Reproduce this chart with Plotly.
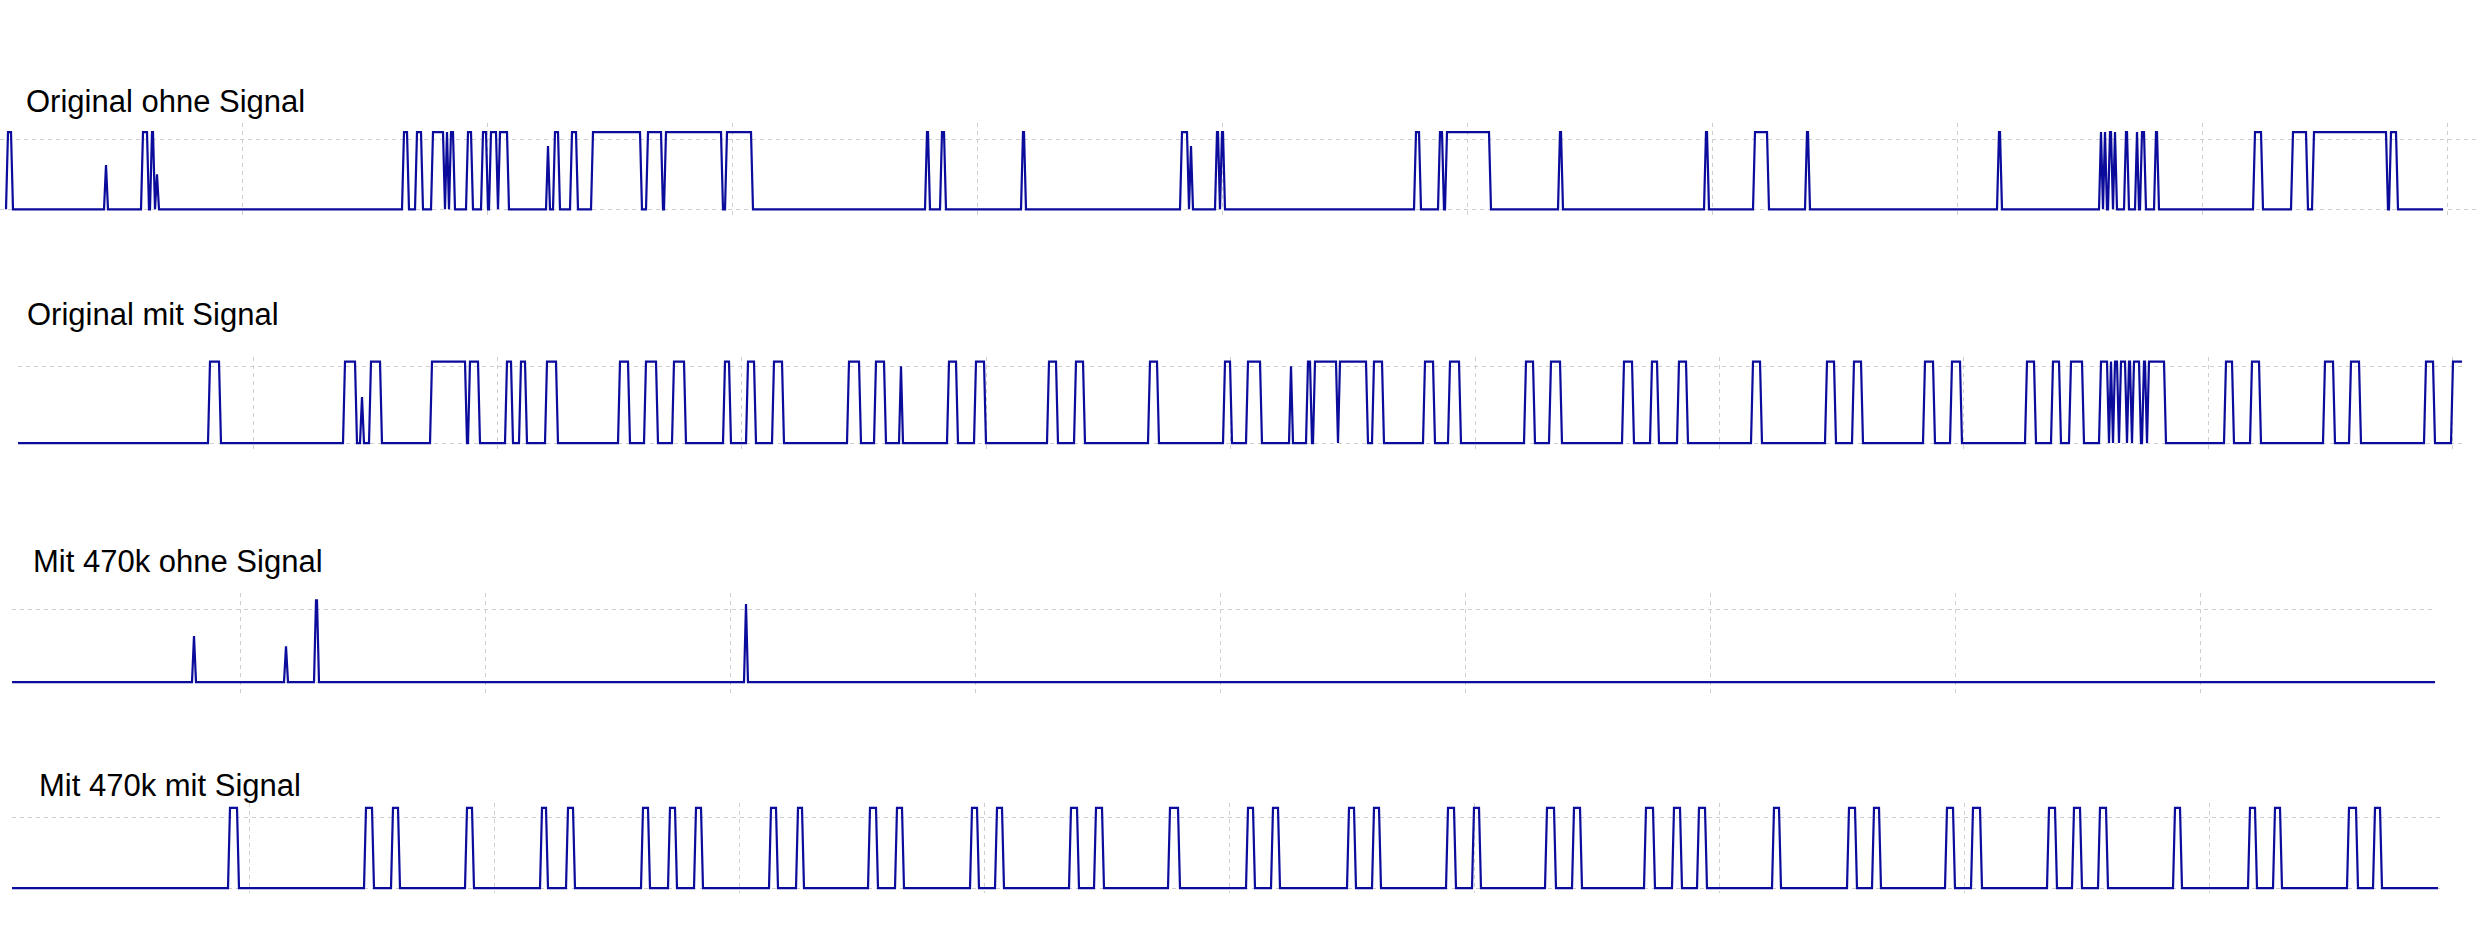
import plotly.graph_objects as go

# ---------------- data (sample index of each pulse edge, pulse level in div) ----
titles = ["Original ohne Signal", "Original mit Signal",
          "Mit 470k ohne Signal", "Mit 470k mit Signal"]

# capture span (first / last sample) per panel
p1_span = [6, 2443]
p2_span = [18, 2462]
p3_span = [12, 2435]
p4_span = [12, 2438]

# Panel 1: Original ohne Signal
p1_on = [7, 105, 142, 151, 156, 403, 416, 432, 446, 450, 467, 482, 490, 499,
         547, 554, 571, 592, 647, 665, 726, 926, 941, 1022, 1181, 1190, 1216,
         1221, 1415, 1439, 1446, 1559, 1705, 1754, 1806, 1998, 2100, 2104, 2109,
         2114, 2125, 2136, 2141, 2155, 2254, 2292, 2313, 2390]
p1_off = [12, 107, 148, 154, 158, 408, 422, 444, 448, 454, 472, 487, 497, 508,
          549, 559, 577, 641, 662, 722, 752, 929, 945, 1025, 1188, 1192, 1219,
          1224, 1420, 1443, 1490, 1562, 1708, 1768, 1809, 2001, 2102, 2106, 2112,
          2116, 2128, 2138, 2145, 2158, 2262, 2307, 2387, 2397]
p1_lvl = [1.1, 0.63, 1.1, 1.1, 0.5, 1.1, 1.1, 1.1, 1.1, 1.1, 1.1, 1.1, 1.1, 1.1,
          0.9, 1.1, 1.1, 1.1, 1.1, 1.1, 1.1, 1.1, 1.1, 1.1, 1.1, 0.9, 1.1,
          1.1, 1.1, 1.1, 1.1, 1.1, 1.1, 1.1, 1.1, 1.1, 1.1, 1.1, 1.1,
          1.1, 1.1, 1.1, 1.1, 1.1, 1.1, 1.1, 1.1, 1.1]

# Panel 2: Original mit Signal
p2_on = [209, 344, 361, 370, 431, 469, 506, 520, 546, 619, 645, 673, 724, 747,
         773, 848, 875, 900, 948, 975, 1048, 1075, 1149, 1224, 1247, 1290, 1307,
         1314, 1339, 1373, 1424, 1449, 1525, 1550, 1623, 1651, 1678, 1752, 1826,
         1853, 1924, 1951, 2026, 2052, 2070, 2100, 2110, 2114, 2120, 2128, 2133,
         2143, 2148, 2225, 2251, 2324, 2350, 2425, 2452]
p2_off = [220, 356, 363, 381, 466, 479, 512, 526, 557, 629, 657, 685, 730, 755,
          783, 860, 885, 902, 957, 985, 1057, 1084, 1158, 1231, 1261, 1292, 1311,
          1337, 1367, 1383, 1434, 1460, 1534, 1561, 1633, 1658, 1687, 1761, 1835,
          1862, 1934, 1961, 2035, 2060, 2083, 2108, 2112, 2118, 2126, 2131, 2140,
          2146, 2165, 2233, 2260, 2334, 2360, 2434, 2464]
p2_lvl = [1.06, 1.06, 0.6, 1.06, 1.06, 1.06, 1.06, 1.06, 1.06, 1.06, 1.06, 1.06,
          1.06, 1.06, 1.06, 1.06, 1.06, 1.0, 1.06, 1.06, 1.06, 1.06, 1.06, 1.06,
          1.06, 1.0, 1.06, 1.06, 1.06, 1.06, 1.06, 1.06, 1.06, 1.06, 1.06, 1.06,
          1.06, 1.06, 1.06, 1.06, 1.06, 1.06, 1.06, 1.06, 1.06, 1.06, 1.06, 1.06,
          1.06, 1.06, 1.06, 1.06, 1.06, 1.06, 1.06, 1.06, 1.06, 1.06, 1.06]

# Panel 3: Mit 470k ohne Signal
p3_on = [193, 285, 315, 745]
p3_off = [195, 287, 318, 747]
p3_lvl = [0.63, 0.49, 1.12, 1.07]

# Panel 4: Mit 470k mit Signal
p4_on = [229, 365, 392, 466, 541, 567, 642, 669, 695, 770, 797, 869, 896, 971,
         996, 1070, 1095, 1169, 1247, 1272, 1348, 1373, 1447, 1473, 1546, 1573,
         1645, 1673, 1698, 1773, 1848, 1873, 1946, 1972, 2048, 2073, 2099, 2174,
         2249, 2274, 2348, 2374]
p4_off = [238, 373, 399, 473, 547, 574, 649, 676, 702, 777, 803, 877, 903, 978,
          1003, 1078, 1103, 1179, 1254, 1279, 1355, 1380, 1455, 1480, 1555, 1581,
          1654, 1681, 1706, 1780, 1856, 1880, 1954, 1981, 2056, 2081, 2107, 2181,
          2256, 2281, 2357, 2381]
p4_lvl = [1.13] * len(p4_on)

# ---------------- build figure ----------------
def wave(on, off, lvl, span):
    xs, ys = [span[0]], [0]
    for s, e, l in zip(on, off, lvl):
        xs += [s - 1, s + 1, e - 1, e + 1]
        ys += [0, l, l, 0]
    xs.append(span[1])
    ys.append(0)
    return xs, ys

panels = [(p1_on, p1_off, p1_lvl, p1_span),
          (p2_on, p2_off, p2_lvl, p2_span),
          (p3_on, p3_off, p3_lvl, p3_span),
          (p4_on, p4_off, p4_lvl, p4_span)]

W, H = 2480, 945
# layout geometry per panel (pixels)
x_dom = [(0, 2480), (18, 2462), (12, 2435), (12, 2440)]
x_tick0 = [242, 253, 240, 249]
x_dtick = [245, 244.4, 245, 245]
y_dom = [(123, 217), (357, 450), (593, 693), (803, 893)]
y_rng = [(-0.11, 1.23), (-0.09, 1.12), (-0.15, 1.22), (-0.07, 1.2)]
title_pos = [(24, 101), (25, 314), (31, 561), (37, 785)]

grid_col = "#cfcfcf"
line_col = "#0b0b9c"

fig = go.Figure()
layout = dict(width=W, height=H, margin=dict(l=0, r=0, t=0, b=0),
              paper_bgcolor="white", plot_bgcolor="white", showlegend=False)
annotations = []
for i, (on, off, lvl, span) in enumerate(panels):
    k = "" if i == 0 else str(i + 1)
    xs, ys = wave(on, off, lvl, span)
    fig.add_trace(go.Scatter(x=xs, y=ys, mode="lines",
                             line=dict(color=line_col, width=2.2),
                             xaxis="x" + k, yaxis="y" + k, hoverinfo="skip"))
    x0, x1 = x_dom[i]
    layout["xaxis" + k] = dict(
        domain=[x0 / W, x1 / W], range=[x0, x1], anchor="y" + k,
        tick0=x_tick0[i], dtick=x_dtick[i], showticklabels=False, ticks="",
        showgrid=True, gridcolor=grid_col, griddash="4px,4px", gridwidth=1,
        zeroline=False, showline=False, fixedrange=True)
    y0, y1 = y_dom[i]
    layout["yaxis" + k] = dict(
        domain=[1 - y1 / H, 1 - y0 / H], range=list(y_rng[i]), anchor="x" + k,
        tickmode="array", tickvals=[0, 1], showticklabels=False, ticks="",
        showgrid=True, gridcolor=grid_col, griddash="4px,4px", gridwidth=1,
        zeroline=False, showline=False, fixedrange=True)
    tx, ty = title_pos[i]
    annotations.append(dict(text=titles[i], xref="paper", yref="paper",
                            x=tx / W, y=1 - ty / H, xanchor="left",
                            yanchor="middle", showarrow=False,
                            font=dict(family="Liberation Sans, Arial, sans-serif",
                                      size=31, color="black")))
layout["annotations"] = annotations
fig.update_layout(**layout)
fig.write_html("out.html", config={"displayModeBar": False},
               post_script="document.body.style.margin='0';"
                           "document.body.style.overflow='hidden';")
